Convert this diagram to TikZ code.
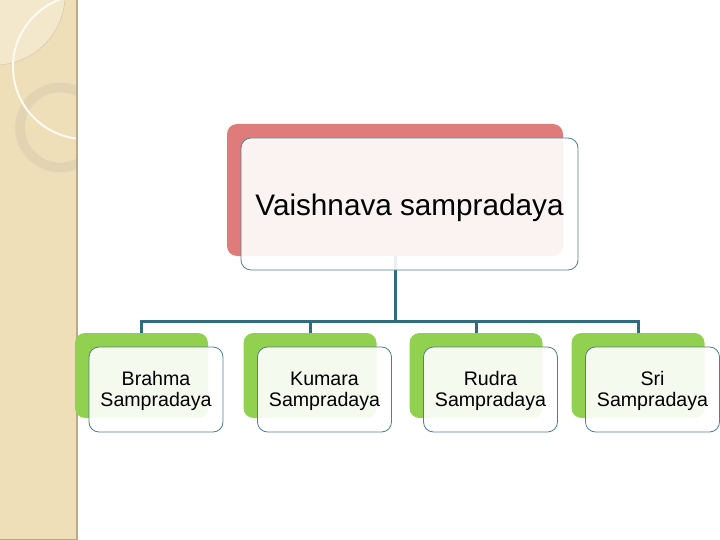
\documentclass[tikz,border=0pt]{standalone}
\usepackage{fontspec}
\setmainfont{Liberation Sans}
\definecolor{panel}{RGB}{239,223,184}
\definecolor{panellight}{RGB}{243,232,204}
\definecolor{paneledge}{RGB}{186,170,134}
\definecolor{ringcol}{RGB}{226,212,176}
\definecolor{redback}{RGB}{224,123,123}
\definecolor{greenback}{RGB}{146,208,80}
\definecolor{frameline}{RGB}{80,128,144}
\definecolor{connline}{RGB}{47,108,125}
\newcommand{\topstrut}{\rule{0pt}{17.5pt}}
\tikzset{
  backbox/.style={rounded corners=10pt, inner sep=0pt, minimum width=#1},
  topback/.style={backbox=336pt, minimum height=132pt, fill=redback},
  topfront/.style={rounded corners=10pt, inner sep=0pt, minimum width=337pt, minimum height=132pt,
     draw=frameline, line width=0.8pt, fill=white, fill opacity=0.9, text opacity=1,
     text height=22pt, text depth=0pt,
     font=\fontsize{29.7}{34}\selectfont},
  childback/.style={backbox=133pt, minimum height=85pt, fill=greenback},
  childfront/.style={rounded corners=10pt, inner sep=0pt, minimum width=134pt, minimum height=85pt,
     draw=frameline, line width=0.8pt, fill=white, fill opacity=0.9, text opacity=1, align=center,
     font=\fontsize{19.6}{21}\selectfont},
  conn/.style={draw=connline, line width=3pt}
}
\begin{document}
\begin{tikzpicture}[x=1pt,y=-1pt]
\useasboundingbox (0,0) rectangle (720,540);
% left decorative panel
\fill[panel] (0,0) rectangle (77,540);
\begin{scope}
  \clip (0,0) rectangle (77,540);
  \fill[panellight] (-5,-5) circle (70);
  \draw[paneledge!70, line width=0.4pt] (-5,-5) circle (70);
  \draw[ringcol, line width=10pt] (60,127.5) circle (40);
  \draw[paneledge!40, line width=0.4pt] (60,127.5) circle (45);
  \draw[paneledge!40, line width=0.4pt] (60,127.5) circle (35);
  \draw[white!85!panel, line width=2pt] (85,67) circle (72);
\end{scope}
\draw[paneledge, line width=1.6pt] (77.2,0) -- (77.2,540);
\draw[paneledge, line width=1pt] (0,539.5) -- (77,539.5);
% back boxes
\node[topback] (tb) at (395,190) {};
\node[childback] (g1) at (141.5,375.5) {};
\node[childback] (g2) at (310,375.5) {};
\node[childback] (g3) at (476,375.5) {};
\node[childback] (g4) at (638,375.5) {};
% connectors
\coordinate (bus) at (395,321.5);
\draw[conn] (tb.south) -- (bus);
\draw[conn] (bus) -| (g1.north);
\draw[conn] (bus) -| (g2.north);
\draw[conn] (bus) -| (g3.north);
\draw[conn] (bus) -| (g4.north);
% front boxes
\node[topfront] (tf) at (409.5,204) {Vaishnava sampradaya};
\node[childfront] (c1) at (156,389.5) {\topstrut Brahma\\Sampradaya};
\node[childfront] (c2) at (324.5,389.5) {\topstrut Kumara\\Sampradaya};
\node[childfront] (c3) at (490.5,389.5) {\topstrut Rudra\\Sampradaya};
\node[childfront] (c4) at (652.5,389.5) {\topstrut Sri\\Sampradaya};
\end{tikzpicture}
\end{document}
